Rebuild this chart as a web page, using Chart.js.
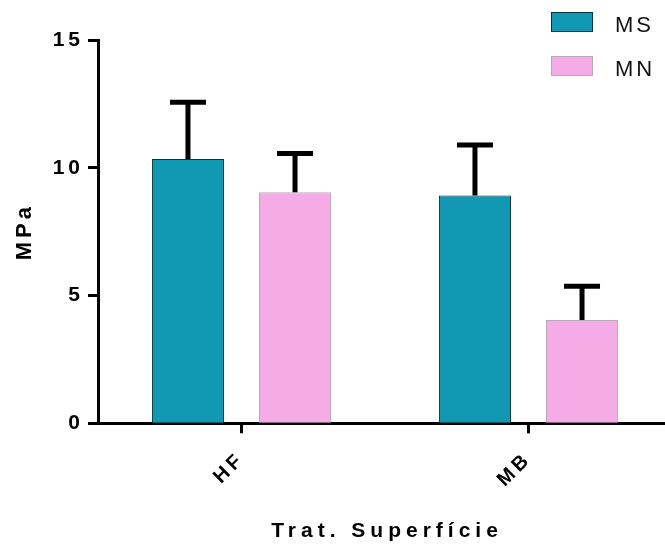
<!DOCTYPE html>
<html><head><meta charset="utf-8">
<script src="https://cdn.jsdelivr.net/npm/chart.js@4"></script>
<style>
html,body{margin:0;padding:0;overflow:hidden;background:#fff;}
#wrap{width:672px;height:545px;position:relative;}
</style></head>
<body><div id="wrap"><canvas id="c"></canvas></div>
<script>
const categories = ['HF', 'MB'];
const seriesNames = ['MS', 'MN'];
const msValues = [10.34, 8.91];
const msErrors = [2.22, 1.98];
const mnValues = [9.04, 4.04];
const mnErrors = [1.52, 1.32];
const yTickValues = [0, 5, 10, 15];
const xTitle = 'Trat. Superfície';
const yTitle = 'MPa';

const FONT = "'Liberation Sans', Arial, sans-serif";

const spacingPlugin = {
  id: 'spacing',
  beforeLayout(chart) { chart.ctx.letterSpacing = '4px'; },
  beforeDraw(chart) { chart.ctx.letterSpacing = '4px'; }
};

const errorBars = {
  id: 'errorBars',
  afterDatasetsDraw(chart) {
    const ctx = chart.ctx, y = chart.scales.y;
    chart.data.datasets.forEach((ds, i) => {
      const meta = chart.getDatasetMeta(i);
      meta.data.forEach((bar, j) => {
        const top = y.getPixelForValue(ds.data[j] + ds.errors[j]);
        ctx.save();
        ctx.strokeStyle = '#000';
        ctx.lineWidth = 5;
        ctx.lineCap = 'butt';
        ctx.beginPath();
        ctx.moveTo(bar.x, bar.y);
        ctx.lineTo(bar.x, top);
        ctx.moveTo(bar.x - 18, top);
        ctx.lineTo(bar.x + 18, top);
        ctx.stroke();
        ctx.restore();
      });
    });
  }
};

const legendPlugin = {
  id: 'customLegend',
  afterDraw(chart) {
    const ctx = chart.ctx;
    chart.data.datasets.forEach((ds, i) => {
      const x = 551, y = 12 + i * 44;
      ctx.save();
      ctx.fillStyle = ds.backgroundColor;
      ctx.fillRect(x, y, 42, 20);
      ctx.lineWidth = 1;
      ctx.strokeStyle = ds.borderColor;
      ctx.strokeRect(x + 0.5, y + 0.5, 41, 19);
      ctx.font = '22px ' + FONT;
      ctx.letterSpacing = '3px';
      ctx.fillStyle = '#111';
      ctx.textBaseline = 'alphabetic';
      ctx.textAlign = 'left';
      ctx.fillText(ds.label, 615, y + 20);
      ctx.restore();
    });
    // x-axis title
    const ca = chart.chartArea;
    ctx.save();
    ctx.font = 'bold 21px ' + FONT;
    ctx.letterSpacing = '5px';
    ctx.fillStyle = '#000';
    ctx.textAlign = 'center';
    ctx.textBaseline = 'middle';
    ctx.fillText(xTitle, (ca.left + ca.right) / 2 + 2, 531);
    ctx.restore();
  }
};

new Chart(document.getElementById('c'), {
  type: 'bar',
  data: {
    labels: categories,
    datasets: [
      { label: seriesNames[0], data: msValues, errors: msErrors,
        backgroundColor: '#1199b3', borderColor: '#0b3440', borderWidth: 1 },
      { label: seriesNames[1], data: mnValues, errors: mnErrors,
        backgroundColor: '#f5abe6', borderColor: '#b8a8b8', borderWidth: 1 }
    ]
  },
  options: {
    responsive: true,
    maintainAspectRatio: false,
    animation: false,
    devicePixelRatio: 1,
    categoryPercentage: 0.746,
    barPercentage: 0.673,
    layout: { padding: { top: 40, right: 0, bottom: 0, left: 0 } },
    plugins: { legend: { display: false }, tooltip: { enabled: false } },
    scales: {
      x: {
        offset: true,
        grid: { display: true, offset: false, drawOnChartArea: false, drawTicks: true,
                tickLength: 10, tickWidth: 3, tickColor: '#000' },
        border: { display: true, width: 3, color: '#000' },
        ticks: { color: '#000', font: { family: FONT, size: 20, weight: 'bold' },
                 minRotation: 45, maxRotation: 45, padding: 14 },
        title: { display: false },
        afterFit(s) { s.height = 121.7; }
      },
      y: {
        min: 0, max: 15,
        afterBuildTicks(s) { s.ticks = yTickValues.map(v => ({ value: v })); },
        grid: { display: true, drawOnChartArea: false, drawTicks: true,
                tickLength: 10, tickWidth: 3, tickColor: '#000' },
        border: { display: true, width: 3, color: '#000' },
        ticks: { color: '#000', font: { family: FONT, size: 21, weight: 'bold' }, padding: 4 },
        title: { display: true, text: yTitle, color: '#000',
                 font: { family: FONT, size: 22, weight: 'bold' }, padding: { top: 12, bottom: 0 } },
        afterFit(s) { s.width = 98; }
      }
    }
  },
  plugins: [spacingPlugin, errorBars, legendPlugin]
});
</script>
</body></html>
